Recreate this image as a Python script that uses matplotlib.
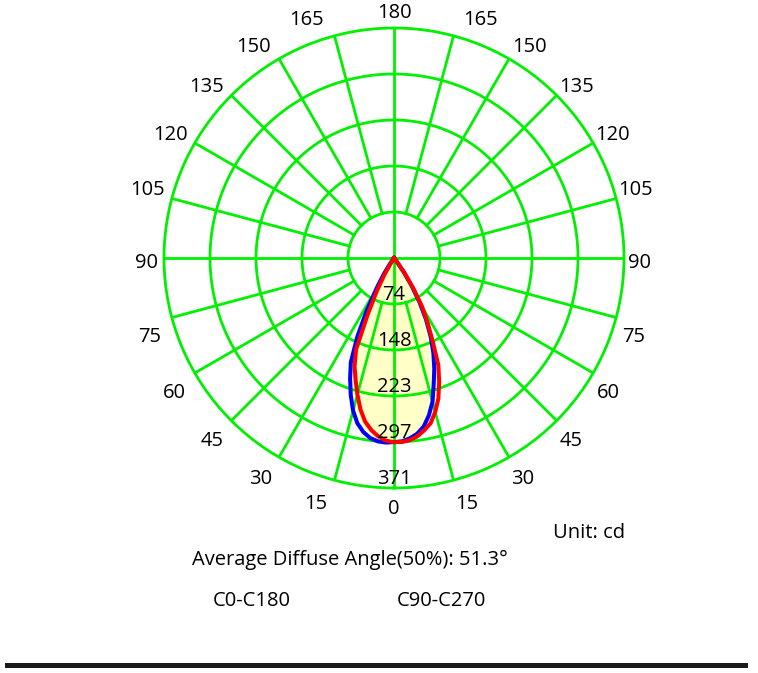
import numpy as np
import matplotlib
matplotlib.use("Agg")
import matplotlib.pyplot as plt
from matplotlib.patches import Rectangle
from matplotlib.transforms import offset_copy

plt.rcParams['font.family'] = ['Open Sans', 'DejaVu Sans']

# ---------------- data (cd) ----------------
gamma = [0, 2.5, 5, 7.5, 10, 12.5, 15, 17.5, 20, 22.5, 25, 27.5, 30, 32.5, 35, 37.5, 40]
c0_c180_left  = [297, 298, 297, 293, 285, 273, 255, 232, 207, 182, 140, 95, 55, 30, 10, 0, 0]      # C180
c0_c180_right = [297, 296, 292, 286, 276, 260, 240, 213, 190, 166, 140, 112, 82, 52, 26, 6, 0]     # C0
c90_c270_left  = [297, 295, 289, 280, 268, 250, 228, 206, 186, 160, 100, 60, 30, 5, 0, 0, 0]      # C270
c90_c270_right = [297, 297, 295, 290, 282, 273, 257, 238, 213, 187, 147, 117, 90, 58, 30, 8, 0]   # C90

ring_labels = ['74', '148', '223', '297', '371']
angle_labels = [0, 15, 30, 45, 60, 75, 90, 105, 120, 135, 150, 165, 180]
RMAX = 371
series_names = ['C0-C180', 'C90-C270']
unit_text = 'Unit: cd'
beam_text = 'Average Diffuse Angle(50%): 51.3°'

GREEN = '#00f000'
YELLOW = '#ffffc8'
W, H = 758, 673

fig = plt.figure(figsize=(W / 100, H / 100), dpi=100)
cx, cy, R = 394, 258, 230
ax = fig.add_axes([(cx - R) / W, 1 - (cy + R) / H, 2 * R / W, 2 * R / H], projection='polar')
ax.set_theta_zero_location('S')
ax.set_theta_direction(1)
ax.set_ylim(0, RMAX)
ax.grid(False)
ax.set_xticks([])
ax.set_yticks([])
ax.spines['polar'].set_color(GREEN)
ax.spines['polar'].set_linewidth(2.0)
ax.spines['polar'].set_zorder(3)

# filled curves
g = np.deg2rad(np.array(gamma))
def closed(left, right):
    th = np.concatenate([-g[::-1], g[1:]])
    rr = np.concatenate([np.array(left)[::-1], np.array(right)[1:]])
    return th, rr

th_b, r_b = closed(c0_c180_left, c0_c180_right)
th_r, r_r = closed(c90_c270_left, c90_c270_right)
ax.fill(th_b, r_b, color=YELLOW, zorder=1, lw=0)
ax.fill(th_r, r_r, color=YELLOW, zorder=1, lw=0)

# grid circles
tt = np.linspace(0, 2 * np.pi, 721)
ring_vals = [RMAX * k / 5 for k in range(1, 6)]
for rv in ring_vals[:-1]:
    ax.plot(tt, np.full_like(tt, rv), color=GREEN, lw=2.0, zorder=2)
# spokes
for a in range(0, 360, 15):
    r0 = 0 if a % 90 == 0 else ring_vals[0]
    ax.plot([np.deg2rad(a)] * 2, [r0, RMAX], color=GREEN, lw=2.0, zorder=2)

# curves
ax.plot(th_b, r_b, color='#0000ff', lw=2.9, zorder=4, solid_joinstyle='round')
ax.plot(th_r, r_r, color='#ff0000', lw=2.9, zorder=5, solid_joinstyle='round')

FS = 14.5
# ring labels along the 0° axis
for rv, lab in zip(ring_vals, ring_labels):
    ax.text(0, rv - RMAX * 12 / R, lab, ha='center', va='center_baseline', fontsize=FS, zorder=6)

# angle labels
adj = {0: 0, 15: 2.7, 30: 1.5, 45: 0.3, 60: -1.1, 75: -2.4, 90: -0.5,
       105: 1.0, 120: -0.6, 135: -2.2, 150: -3.4, 165: -5.0, 180: 0}
right_shift = {90: -2, 165: -1}
for a in angle_labels:
    rad_px = 248 if a in (0, 90, 180) else 256
    rl = RMAX * rad_px / R
    sides = [1] if a in (0, 180) else [-1, 1]
    for s in sides:
        if s == 1 and a not in (0, 180):
            tr = offset_copy(ax.transData, fig=fig, x=right_shift.get(a, -5), y=0, units='dots')
        else:
            tr = ax.transData
        ax.text(np.deg2rad(s * (a + adj[a])), rl, str(a), ha='center', va='center_baseline',
                fontsize=FS, clip_on=False, transform=tr)

# bottom texts
fig.text(589 / W, 1 - 530 / H, unit_text, ha='center', va='center_baseline', fontsize=FS)
fig.text(192 / W, 1 - 557 / H, beam_text, ha='left', va='center_baseline', fontsize=FS)
fig.text(213 / W, 1 - 599 / H, series_names[0], ha='left', va='center_baseline', fontsize=FS)
fig.text(397 / W, 1 - 599 / H, series_names[1], ha='left', va='center_baseline', fontsize=FS)

fig.add_artist(Rectangle((5 / W, 5 / H), 743 / W, 5 / H, transform=fig.transFigure,
                         color='#1a1a1a', lw=0))

fig.savefig('out.png', dpi=100)
